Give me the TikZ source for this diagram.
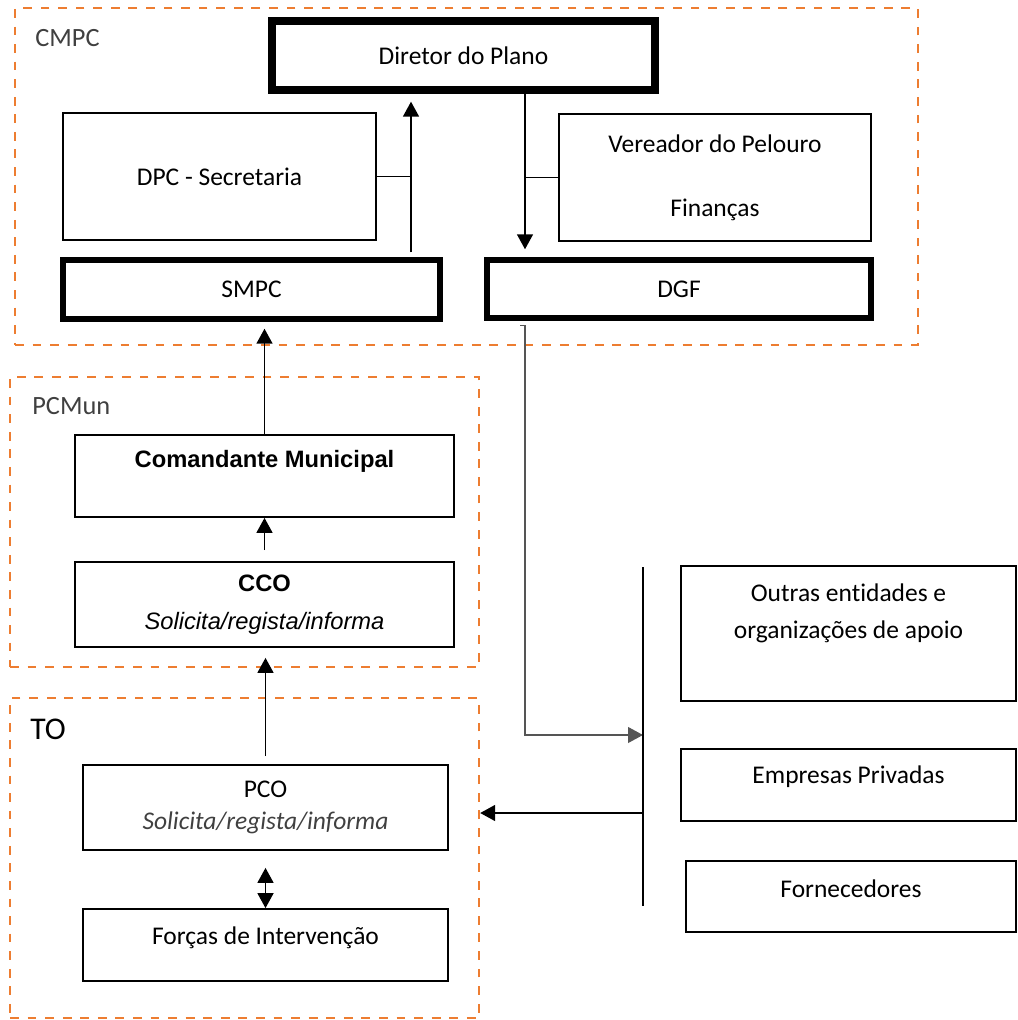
\documentclass[tikz,border=0pt]{standalone}
\usepackage{fontspec}
\setmainfont{Carlito}[RawFeature={-liga;-clig;-calt;-dlig}]
\newfontfamily\arialfont{Liberation Sans}
\usetikzlibrary{arrows.meta}

\definecolor{grporange}{RGB}{237,125,49}
\definecolor{grpgray}{RGB}{64,64,64}
\definecolor{feedgray}{RGB}{85,85,85}

\newcommand\arialbold{\arialfont\bfseries\fontsize{13.5}{16.2}\selectfont}
\newcommand\arialital{\arialfont\itshape\fontsize{13.5}{16.2}\selectfont}

\tikzset{
  box/.style={draw, line width=1pt, inner sep=0pt, align=center,
    font=\fontsize{14.5}{17.4}\selectfont},
  mainbox/.style={box, line width=3.1pt},
  topbox/.style={box, line width=4.2pt},
  boxtext/.style={align=center, inner sep=0pt, font=\fontsize{14.5}{17.4}\selectfont},
  grp/.style={draw=grporange, line width=1.4pt, dash pattern=on 5pt off 5pt, inner sep=0pt},
  grptitle/.style={anchor=west, inner sep=0pt, text=grpgray, font=\fontsize{15}{18}\selectfont},
  link/.style={line width=1.1pt},
  arr/.style={link, -{Triangle[width=9pt,length=8.5pt]}},
  dblarr/.style={link, {Triangle[width=9pt,length=8.5pt]}-{Triangle[width=9pt,length=8.5pt]}},
  feed/.style={line width=0.8pt, draw=feedgray, -{Triangle[width=9pt,length=8.5pt]}}
}

\begin{document}
\begin{tikzpicture}[x=0.02cm, y=-0.02cm]
  \useasboundingbox (0,0) rectangle (1017,1020);

  % dashed groups
  \node[grp, minimum width=18.06cm, minimum height=6.74cm] (cmpc) at (466.5,176.5) {};
  \node[grp, minimum width=9.38cm, minimum height=5.80cm] (pcmun) at (244.5,522) {};
  \node[grp, minimum width=9.38cm, minimum height=6.40cm] (to) at (244.5,858) {};
  \node[grptitle] (cmpctitle) at (35,38) {CMPC};
  \node[grptitle] (pcmuntitle) at (32,406) {PCMun};
  \node[grptitle, text=black, font=\fontsize{18}{21}\selectfont] (totitle) at (30,729) {TO};

  % CMPC
  \node[topbox, minimum width=7.66cm, minimum height=1.38cm] (dir) at (463.5,55.5) {Diretor do Plano};
  \node[box, minimum width=6.26cm, minimum height=2.54cm] (dpc) at (219.5,176.5) {DPC - Secretaria};
  \node[box, minimum width=6.24cm, minimum height=2.54cm] (ver) at (715,177.5) {Vereador do Pelouro\\[19pt]Finanças};
  \node[mainbox, minimum width=7.54cm, minimum height=1.18cm] (smpc) at (251.5,289.5) {SMPC};
  \node[mainbox, minimum width=7.68cm, minimum height=1.16cm] (dgf) at (679,289) {DGF};

  % PCMun
  \node[box, minimum width=7.58cm, minimum height=1.64cm,
    label={[name=cmdtext, inner sep=0pt, font=\arialbold, yshift=0.3cm]center:Comandante Municipal}] (cmd) at (264.5,476) {};
  \node[box, minimum width=7.58cm, minimum height=1.70cm] (cco) at (264.5,604.5)
    {{\arialbold CCO}\\[4pt]{\arialital Solicita/regista/informa}};

  % TO
  \node[box, minimum width=7.30cm, minimum height=1.70cm] (pco) at (265.5,807.5)
    {PCO\\[1pt]{\itshape\color{grpgray}Solicita/regista/informa}};
  \node[box, minimum width=7.30cm, minimum height=1.44cm,
    label={[name=frctext, boxtext, yshift=0.14cm]center:Forças de Intervenção}] (frc) at (265.5,945) {};

  % apoio externo
  \node[box, minimum width=6.70cm, minimum height=2.70cm,
    label={[name=outtext, boxtext, yshift=0.4cm]center:Outras entidades e\\[4pt]organizações de apoio}] (out) at (848.5,633.5) {};
  \node[box, minimum width=6.70cm, minimum height=1.44cm,
    label={[name=emptext, boxtext, yshift=0.16cm]center:Empresas Privadas}] (emp) at (848.5,785) {};
  \node[box, minimum width=6.60cm, minimum height=1.42cm,
    label={[name=frntext, boxtext, yshift=0.16cm]center:Fornecedores}] (frn) at (851,896.5) {};

  \coordinate (upx) at (411,0);
  \coordinate (downx) at (525,0);
  \coordinate (bartop) at (643,567);
  \coordinate (barbot) at (643,906);
  \coordinate (barin) at (643,735);
  \coordinate (barout) at (643,813);

  % ligações
  \draw[arr, shorten <=0.1cm, shorten >=0.16cm] (smpc.north -| upx) -- (dir.south -| upx);
  \draw[link] (dpc.east) -- (dpc.east -| upx);
  \draw[arr, shorten >=0.16cm] (dir.south -| downx) -- (dgf.north -| downx);
  \draw[link] (ver.west -| downx) -- (ver.west);
  \draw[feed] (dgf.south -| downx) ++(-5,5) -- ++(5,0) |- (barin);
  \draw[link] (bartop) -- (barbot);
  \draw[arr] (barout) -- (barout -| to.east);
  \draw[arr, shorten >=0.14cm] (cmd.north) -- (smpc.south -| cmd.north);
  \draw[arr, shorten <=0.22cm] (cco.north) -- (cmd.south);
  \draw[arr, shorten <=0.16cm, shorten >=0.2cm] (pco.north) -- (pco.north |- cco.south);
  \draw[dblarr, shorten <=0.34cm] (pco.south) -- (pco.south |- frc.north);
\end{tikzpicture}
\end{document}
